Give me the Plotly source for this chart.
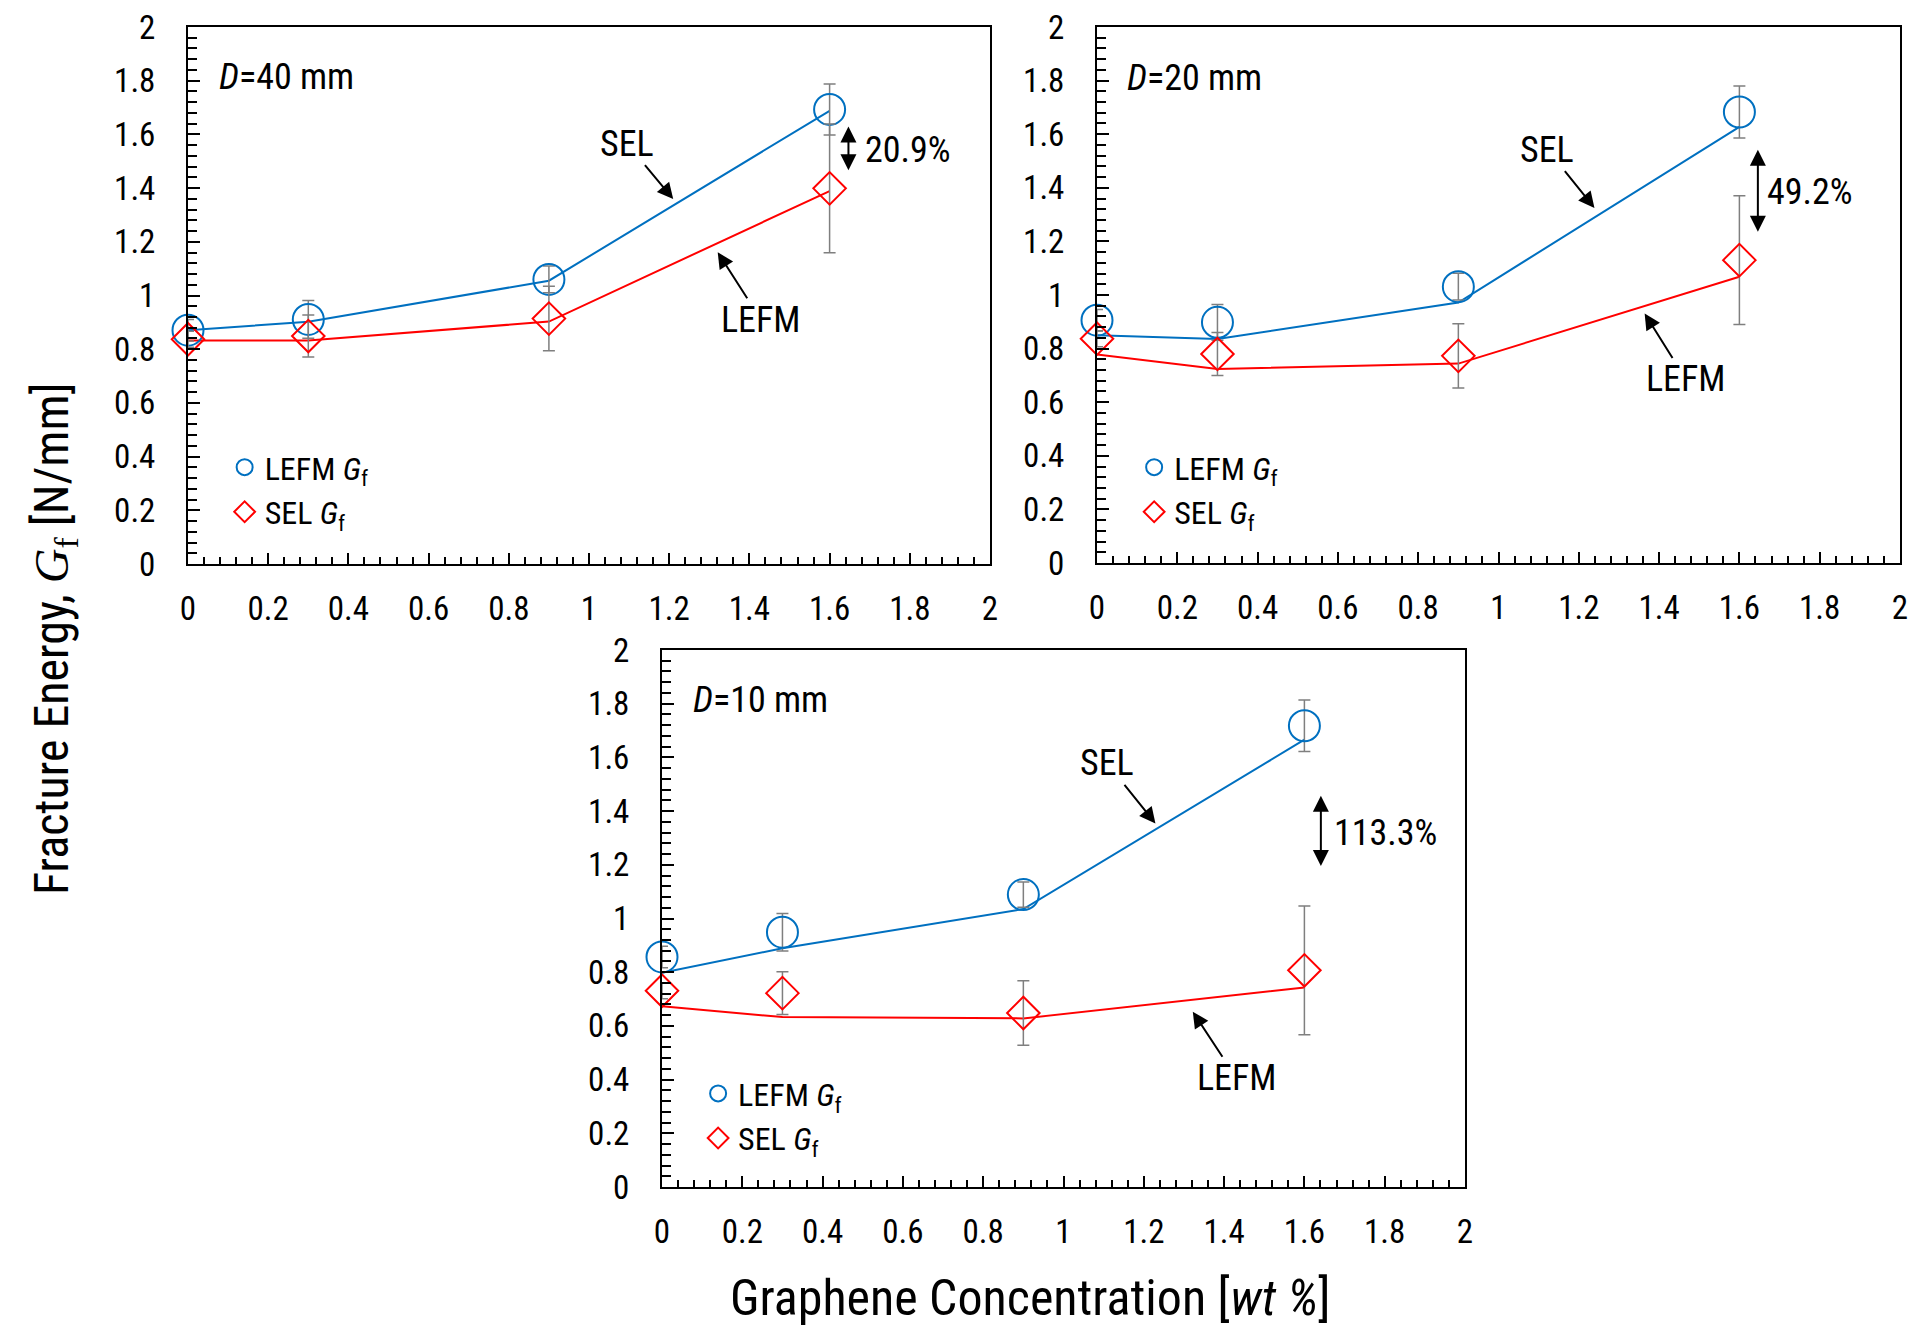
import plotly.graph_objects as go

# ---------------- data ----------------
conc = [0, 0.3, 0.9, 1.6]  # graphene concentration, wt %
tick_vals = [0, 0.2, 0.4, 0.6, 0.8, 1, 1.2, 1.4, 1.6, 1.8, 2]
tick_text = ["0", "0.2", "0.4", "0.6", "0.8", "1", "1.2", "1.4", "1.6", "1.8", "2"]

# D = 40 mm
d40_lefm_gf = [0.871, 0.911, 1.060, 1.693]
d40_lefm_err = [0.04, 0.07, 0.05, 0.095]
d40_sel_gf = [0.837, 0.849, 0.914, 1.399]
d40_sel_err = [0.03, 0.078, 0.12, 0.24]
d40_sel_line = [0.871, 0.902, 1.055, 1.688]
d40_lefm_line = [0.832, 0.832, 0.903, 1.389]

# D = 20 mm
d20_lefm_gf = [0.906, 0.898, 1.031, 1.683]
d20_lefm_err = [0.04, 0.067, 0.05, 0.097]
d20_sel_gf = [0.837, 0.780, 0.773, 1.130]
d20_sel_err = [0.03, 0.08, 0.12, 0.24]
d20_sel_line = [0.850, 0.836, 0.972, 1.627]
d20_lefm_line = [0.778, 0.724, 0.744, 1.068]

# D = 10 mm
d10_lefm_gf = [0.857, 0.949, 1.089, 1.718]
d10_lefm_err = [0.04, 0.07, 0.047, 0.096]
d10_sel_gf = [0.731, 0.722, 0.648, 0.807]
d10_sel_err = [0.03, 0.08, 0.12, 0.24]
d10_sel_line = [0.798, 0.889, 1.035, 1.666]
d10_lefm_line = [0.673, 0.633, 0.628, 0.743]

size_labels = ["40", "20", "10"]
gain_labels = ["20.9%", "49.2%", "113.3%"]

# ---------------- styling ----------------
W, H = 1920, 1341
BLUE = "#0070C0"
RED = "#FF0000"
GREY = "#7F7F7F"
FONT = "Liberation Sans Narrow, Arial Narrow, Roboto Condensed, Liberation Sans, Arial, sans-serif"

# plot areas in pixels: (left, right, top, bottom)
areas = [(188, 990, 27, 564), (1097, 1900, 27, 563), (662, 1465, 650, 1187)]
legend_pos = [(0.1170, 0.672), (0.5907, 0.672), (0.3636, 0.2050)]

# annotation geometry in data units for each panel
ann_geo = [
    dict(d=(0.072, 1.813), sel=(1.095, 1.566), sel_head=(1.21, 1.359),
         lefm=(1.429, 0.910), lefm_head=(1.321, 1.161),
         dbl=(1.647, 1.629, 1.461), pct=(1.684, 1.542)),
    dict(d=(0.07, 1.81), sel=(1.122, 1.542), sel_head=(1.239, 1.325),
         lefm=(1.467, 0.685), lefm_head=(1.364, 0.931),
         dbl=(1.646, 1.542, 1.23), pct=(1.663, 1.384)),
    dict(d=(0.072, 1.814), sel=(1.109, 1.578), sel_head=(1.229, 1.354),
         lefm=(1.431, 0.405), lefm_head=(1.322, 0.653),
         dbl=(1.641, 1.457, 1.19), pct=(1.669, 1.32)),
]

panels = [
    (d40_lefm_gf, d40_lefm_err, d40_sel_gf, d40_sel_err, d40_sel_line, d40_lefm_line),
    (d20_lefm_gf, d20_lefm_err, d20_sel_gf, d20_sel_err, d20_sel_line, d20_lefm_line),
    (d10_lefm_gf, d10_lefm_err, d10_sel_gf, d10_sel_err, d10_sel_line, d10_lefm_line),
]

fig = go.Figure()
layout = dict(
    width=W, height=H,
    margin=dict(l=0, r=0, t=0, b=0, pad=0, autoexpand=False),
    paper_bgcolor="white", plot_bgcolor="white",
    font=dict(family=FONT, size=32, color="black"),
    annotations=[],
)

for i, (lg, le, sg, se, sl, ll) in enumerate(panels):
    n = "" if i == 0 else str(i + 1)
    xa, ya = "x" + n, "y" + n
    leg = "legend" + n
    l, r, t, b = areas[i]

    fig.add_trace(go.Scatter(x=conc, y=sl, mode="lines", line=dict(color=BLUE, width=2),
                             xaxis=xa, yaxis=ya, showlegend=False, hoverinfo="skip"))
    fig.add_trace(go.Scatter(x=conc, y=ll, mode="lines", line=dict(color=RED, width=2),
                             xaxis=xa, yaxis=ya, showlegend=False, hoverinfo="skip"))
    fig.add_trace(go.Scatter(
        x=conc, y=lg, mode="markers", name="LEFM <i>G</i><sub>f</sub>",
        marker=dict(symbol="circle-open", size=31, color=BLUE, line=dict(color=BLUE, width=2)),
        error_y=dict(type="data", array=le, visible=True, color=GREY, thickness=1.5, width=6),
        xaxis=xa, yaxis=ya, legend=leg, cliponaxis=False))
    fig.add_trace(go.Scatter(
        x=conc, y=sg, mode="markers", name="SEL <i>G</i><sub>f</sub>",
        marker=dict(symbol="diamond-open", size=25, color=RED, line=dict(color=RED, width=2)),
        error_y=dict(type="data", array=se, visible=True, color=GREY, thickness=1.5, width=6),
        xaxis=xa, yaxis=ya, legend=leg, cliponaxis=False))

    axis_common = dict(
        range=[0, 2], showgrid=False, zeroline=False, showline=True, linecolor="black",
        linewidth=2, mirror=True, ticks="inside", tickcolor="black", tickwidth=1.5,
        tickvals=tick_vals, ticktext=tick_text, tickfont=dict(family=FONT, size=33),
        automargin=False,
    )
    layout["xaxis" + n] = dict(
        axis_common, domain=[l / W, r / W], anchor=ya, ticklen=11, ticklabelstandoff=14,
        minor=dict(ticks="inside", ticklen=7, dtick=0.04, tickcolor="black", tickwidth=1.5, showgrid=False))
    layout["yaxis" + n] = dict(
        axis_common, domain=[1 - b / H, 1 - t / H], anchor=xa, ticklen=12, ticklabelstandoff=24,
        minor=dict(ticks="inside", ticklen=9, dtick=0.04, tickcolor="black", tickwidth=1.5, showgrid=False))

    lx, ly = legend_pos[i]
    layout[leg] = dict(x=lx, y=ly, xanchor="left", yanchor="top", bgcolor="rgba(0,0,0,0)",
                       font=dict(family=FONT, size=32), itemwidth=30, tracegroupgap=0)

    g = ann_geo[i]
    anns = layout["annotations"]
    anns.append(dict(x=g["d"][0], y=g["d"][1], xref=xa, yref=ya, xanchor="left", yanchor="middle",
                     text="<i>D</i>=" + size_labels[i] + " mm", showarrow=False,
                     font=dict(family=FONT, size=36)))
    # labels with arrows pointing at the fitted lines
    for key in ("sel", "lefm"):
        head = g[key + "_head"]
        txt = g[key]
        anns.append(dict(x=head[0], y=head[1], ax=txt[0], ay=txt[1], xref=xa, yref=ya,
                         axref=xa, ayref=ya, text=key.upper(), showarrow=True, arrowhead=2,
                         arrowsize=1.6, arrowwidth=2, arrowcolor="black",
                         font=dict(family=FONT, size=36), borderpad=0))
    dx, dtop, dbot = g["dbl"]
    anns.append(dict(x=dx, y=dtop, ax=dx, ay=dbot, xref=xa, yref=ya, axref=xa, ayref=ya,
                     text="", showarrow=True, arrowhead=2, startarrowhead=2, arrowside="end+start",
                     arrowsize=1.6, startarrowsize=1.6, arrowwidth=2, arrowcolor="black"))
    anns.append(dict(x=g["pct"][0], y=g["pct"][1], xref=xa, yref=ya, xanchor="left", yanchor="middle",
                     text=gain_labels[i], showarrow=False, font=dict(family=FONT, size=36)))

# shared axis titles
layout["annotations"].append(dict(
    x=54 / W, y=1 - 639 / H, xref="paper", yref="paper", xanchor="center", yanchor="middle",
    textangle=-90, showarrow=False,
    text="Fracture Energy, <span style=\"font-family:Liberation Serif\"><i>G</i><sub>f</sub></span> [N/mm]",
    font=dict(family=FONT, size=48)))
layout["annotations"].append(dict(
    x=1030 / W, y=1 - 1298 / H, xref="paper", yref="paper", xanchor="center", yanchor="middle",
    showarrow=False, text="Graphene Concentration [<i>wt %</i>]",
    font=dict(family=FONT, size=50)))

fig.update_layout(**layout)
fig.write_html("out.html")
